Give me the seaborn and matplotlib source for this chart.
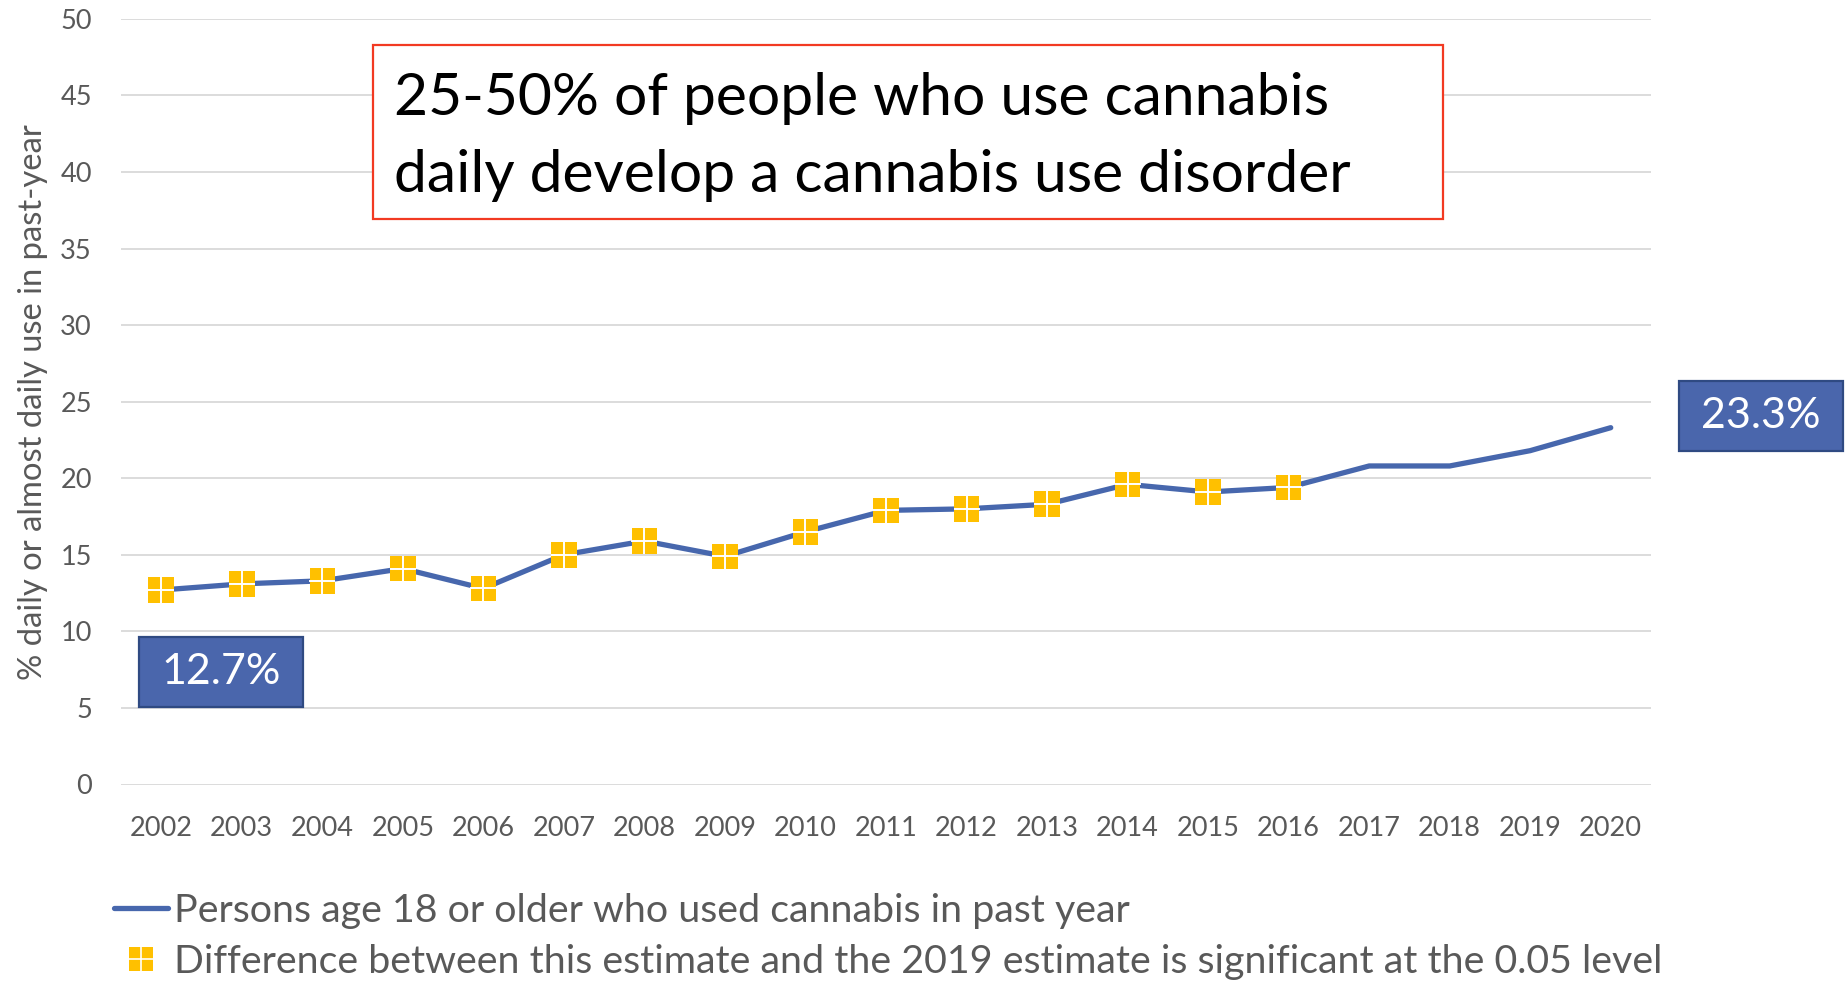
import matplotlib
matplotlib.use("Agg")
import matplotlib.pyplot as plt
from matplotlib.lines import Line2D
from matplotlib.patches import Rectangle
from matplotlib.legend_handler import HandlerTuple
import seaborn as sns
import pandas as pd

# Past-year daily / near-daily cannabis use, adults 18+
years = [2002, 2003, 2004, 2005, 2006, 2007, 2008, 2009, 2010, 2011,
         2012, 2013, 2014, 2015, 2016, 2017, 2018, 2019, 2020]
pct_daily = [12.7, 13.1, 13.3, 14.1, 12.8, 15.0, 15.9, 14.9, 16.5, 17.9,
             18.0, 18.3, 19.6, 19.1, 19.4, 20.8, 20.8, 21.8, 23.3]
# Years whose estimate differs significantly from 2019
significant = [True] * 15 + [False] * 4

y_ticks = [0, 5, 10, 15, 20, 25, 30, 35, 40, 45, 50]
series_label = "Persons age 18 or older who used cannabis in past year"
marker_label = "Difference between this estimate and the 2019 estimate is significant at the 0.05 level"
callout = "25-50% of people who use cannabis\ndaily develop a cannabis use disorder"
y_label = "% daily or almost daily use in past-year"

df = pd.DataFrame({"year": years, "pct": pct_daily, "sig": significant})
sig_df = df[df["sig"]]

sns.set_theme(style="white")
FONT = ["Lato", "DejaVu Sans"]
plt.rcParams["font.family"] = FONT

LINE_BLUE = "#4767AD"
GOLD = "#FFC000"
GREY_TXT = "#595959"
GRID = "#D9D9D9"
MARKER_S = 340

W, H = 1847, 981
fig = plt.figure(figsize=(W / 100, H / 100), dpi=100)
ax = fig.add_axes([121 / W, 196.5 / H, (1651 - 121) / W, (784.5 - 18.8) / H])

sns.lineplot(data=df, x="year", y="pct", ax=ax, color=LINE_BLUE, lw=3.8,
             solid_capstyle="round", zorder=3)
sns.scatterplot(data=sig_df, x="year", y="pct", ax=ax, marker="s", s=MARKER_S,
                color=GOLD, edgecolor="none", linewidth=0, zorder=4)
ax.scatter(sig_df["year"], sig_df["pct"], marker="+", s=MARKER_S, color="white",
           linewidths=1.4, zorder=5)

ax.set_xlim(years[0] - 0.5, years[-1] + 0.5)
ax.set_ylim(y_ticks[0], y_ticks[-1])
ax.set_xticks(years)
ax.set_xticklabels([str(y) for y in years])
ax.set_yticks(y_ticks)
ax.set_xlabel("")
ax.set_ylabel("")
ax.grid(axis="y", color=GRID, lw=1.3)
ax.grid(axis="x", visible=False)
for s in ax.spines.values():
    s.set_visible(False)
ax.tick_params(axis="both", length=0, colors=GREY_TXT, labelsize=19.5)
ax.tick_params(axis="y", pad=21)
ax.tick_params(axis="x", pad=23)
if ax.get_legend():
    ax.get_legend().remove()

fig.text(33 / W, 1 - 402 / H, y_label, rotation=90, ha="center", va="center",
         fontsize=23.6, color=GREY_TXT)

# Callout box
fig.patches.append(Rectangle((373 / W, 1 - 219 / H), (1443 - 373) / W, (219 - 45) / H,
                             transform=fig.transFigure, facecolor="white",
                             edgecolor="#F23A22", lw=1.6, zorder=10))
lines = callout.split("\n")
fig.text(394 / W, 1 - 115 / H, lines[0], fontsize=42.3, color="black",
         va="baseline", ha="left", zorder=11)
fig.text(394 / W, 1 - 192 / H, lines[1], fontsize=42.3, color="black",
         va="baseline", ha="left", zorder=11)

# Value labels for first and last points
fig.canvas.draw()


def value_box(idx, dx, dy, w=164, h=70):
    px, py = ax.transData.transform((years[idx], pct_daily[idx]))
    cx, cy = px + dx, py + dy
    fig.patches.append(Rectangle(((cx - w / 2) / W, (cy - h / 2) / H), w / W, h / H,
                                 transform=fig.transFigure, facecolor="#4A66AC",
                                 edgecolor="#2F4A82", lw=1.6, zorder=10))
    fig.text(cx / W, cy / H, f"{pct_daily[idx]:.1f}%", color="white", fontsize=31,
             ha="center", va="center", zorder=11)


value_box(0, 60, -82)
value_box(len(years) - 1, 150, 12)

# Legend
h_line = Line2D([], [], color=LINE_BLUE, lw=3.8, solid_capstyle="round")
h_sq = Line2D([], [], marker="s", color=GOLD, markersize=17, lw=0, markeredgewidth=0)
h_plus = Line2D([], [], marker="+", color="white", markersize=17, lw=0, markeredgewidth=1.2)
leg = fig.legend([h_line, (h_sq, h_plus)], [series_label, marker_label],
                 handler_map={tuple: HandlerTuple(ndivide=1, pad=0)},
                 loc="upper left", bbox_to_anchor=(114 / W, 1 - 893 / H),
                 frameon=False, fontsize=28.4, labelcolor=GREY_TXT,
                 handlelength=1.37, handletextpad=0.15, labelspacing=0.37,
                 borderaxespad=0, borderpad=0)

fig.savefig("out.png", dpi=100)
